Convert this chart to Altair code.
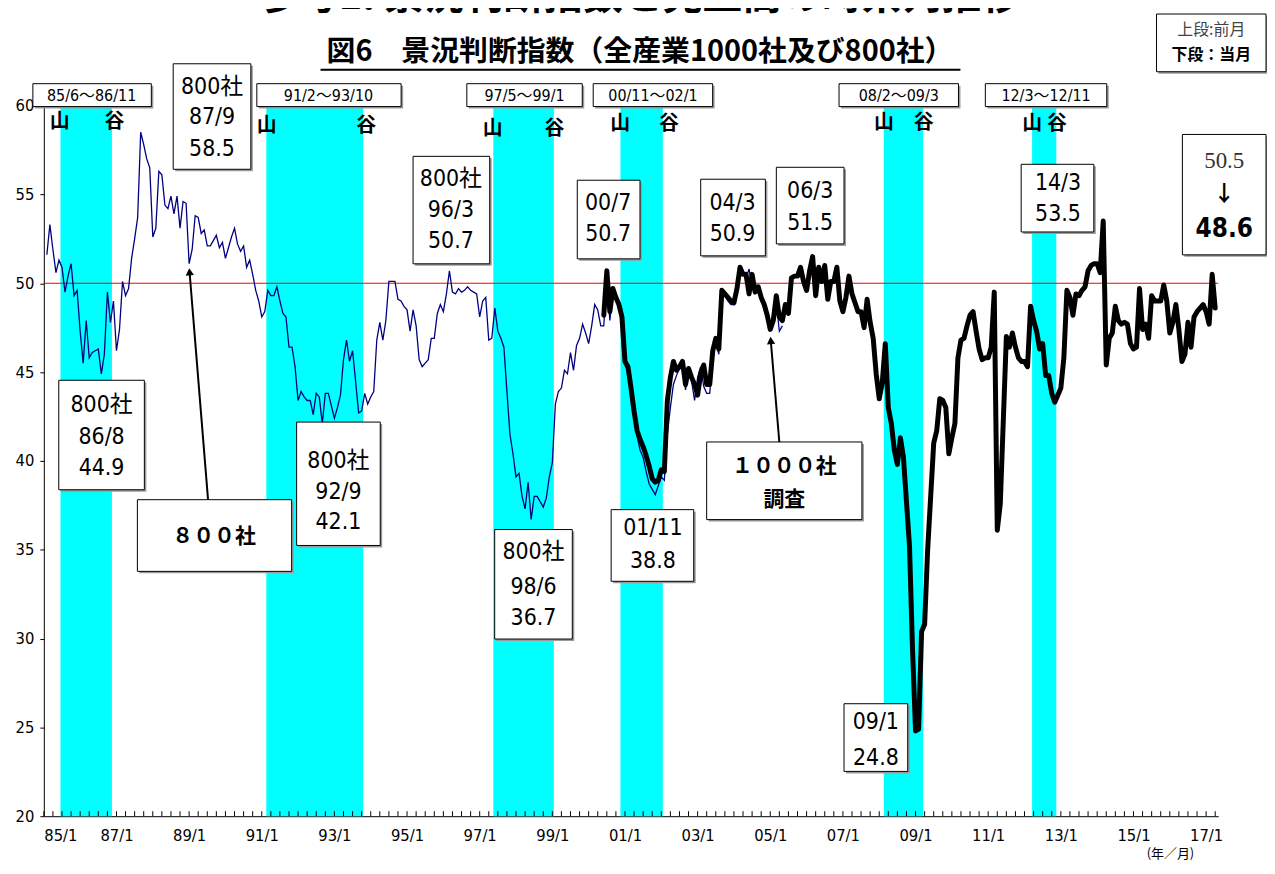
import json
import altair as alt
import pandas as pd

# ---------------- data ----------------
# month index: 0 = 1985/1
start_800 = 1
values_800 = [
    51.6, 53.3, 51.9, 50.6, 51.3, 50.9, 49.5, 50.4, 51.1, 49.3, 49.6,
    47.3, 45.5, 47.9, 45.8, 46.1, 46.2, 46.3, 44.9, 46.0, 49.5, 47.8, 49.0,
    46.2, 47.4, 50.1, 49.3, 49.7, 51.4, 52.5, 53.7, 58.5, 57.8, 57.0, 56.5,
    52.6, 53.1, 56.3, 56.1, 54.4, 54.2, 54.9, 53.9, 54.9, 53.1, 54.6, 54.5,
    51.1, 51.9, 53.8, 53.7, 52.8, 53.0, 52.1, 52.1, 52.4, 52.7, 52.0, 52.3,
    51.4, 52.0, 52.6, 53.1, 52.2, 51.8, 52.1, 50.9, 51.3, 50.5, 49.6, 49.0,
    48.1, 48.4, 49.6, 49.3, 49.3, 49.8, 49.0, 48.3, 48.1, 46.4, 46.4, 45.3,
    43.4, 43.9, 43.6, 43.4, 43.4, 42.6, 43.8, 43.6, 42.1, 43.8, 43.8, 43.1,
    42.4, 43.0, 43.7, 45.7, 46.8, 45.6, 46.2, 44.5, 42.7, 42.8, 43.8, 43.2,
    43.6, 43.9, 46.8, 47.8, 46.8, 47.9, 50.1, 50.1, 50.1, 49.1, 49.0, 48.7,
    48.5, 47.3, 48.5, 47.6, 45.7, 45.3, 45.5, 45.7, 46.9, 46.9, 48.3, 48.8,
    48.4, 49.4, 50.7, 49.5, 49.4, 49.7, 49.5, 49.6, 49.8, 49.6, 49.5, 49.4,
    48.1, 49.0, 49.2, 46.8, 46.9, 48.6, 47.3, 46.9, 46.4, 43.9, 41.5, 40.4,
    39.1, 39.3, 38.0, 37.3, 38.8, 36.7, 38.0, 38.0, 37.7, 37.4, 37.9, 39.1,
    39.9, 43.2, 43.9, 44.1, 45.1, 44.9, 46.1, 45.1, 46.5, 46.9, 47.7, 47.2,
    46.6, 47.6, 48.8, 48.5, 47.6, 47.6, 50.4, 47.9, 49.5, 49.2, 48.7, 48.0,
    45.4, 45.0, 43.8, 42.5, 41.4, 40.6, 40.2, 39.4, 38.7, 38.4, 38.1, 38.6,
    39.1, 38.9, 41.5, 43.0, 44.3, 44.8, 45.2, 45.5, 44.0, 45.0, 44.5, 43.4,
    44.7, 45.3, 44.2, 43.8, 43.8, 46.0, 46.8, 46.0, 49.4, 49.3, 49.0, 48.8,
    48.8, 49.6, 50.6, 50.5, 50.3, 50.8, 49.7, 49.9, 49.8, 49.0, 48.6, 48.0,
    47.6, 48.2, 48.9, 47.3, 47.6,
]

start_1000 = 185
values_1000 = [
    48.2, 50.7, 48.4, 49.7, 49.2, 48.8, 48.1,
    45.6, 45.3, 44.1, 42.8, 41.7, 41.2, 40.8, 40.3, 39.7, 39.0, 38.8, 38.9,
    39.5, 39.4, 43.4, 44.7, 45.6, 45.1, 45.3, 45.6, 44.3, 45.2, 44.7, 44.3,
    43.7, 44.9, 45.4, 44.3, 44.3, 46.2, 46.9, 46.3, 49.6, 49.4, 49.2, 49.0,
    48.9, 49.7, 50.9, 50.5, 50.5, 49.4, 50.5, 49.5, 49.8, 49.2, 48.8, 48.2,
    47.4, 47.9, 49.3, 48.1, 47.9, 48.8, 48.3, 50.3, 50.4, 50.4, 50.9, 50.1,
    49.6, 50.7, 51.5, 49.3, 50.9, 50.1, 51.0, 49.1, 50.1, 50.1, 50.9, 49.0,
    48.4, 49.2, 50.4, 49.4, 48.9, 48.4, 48.4, 47.5, 49.1, 47.8, 46.9, 44.9,
    43.5, 44.4, 46.6, 43.0, 42.1, 40.6, 39.8, 41.3, 40.2, None, 35.2, 29.4,
    24.8, 24.9, 30.4, 30.8, 35.0, None, 41.0, 41.7, 43.5, 43.4, 43.0, 40.4,
    41.3, 42.1, 45.8, 46.8, 46.9, 47.6, 48.2, 48.4, 47.3, 46.3, 45.7, 45.8,
    45.8, 46.4, 49.5, 36.1, 37.6, None, 47.0, 46.4, 47.2, 46.4, 45.8, 45.6,
    45.6, 45.3, 48.7, 47.9, 47.3, 46.3, 46.6, 44.8, 44.8, 43.8, 43.3, 43.7,
    44.1, 45.8, 49.6, 49.2, 48.2, 49.4, 49.3, 49.6, 49.8, 50.7, 51.0, 51.1,
    51.1, 50.6, 53.5, 45.4, 46.9, 47.2, 48.7, 47.9, 47.7, 47.8, 47.7, 46.6,
    46.3, 46.4, 49.7, 47.4, 47.7, 46.9, 49.3, 49.0, 49.0, 49.0, 49.9, 49.0,
    47.2, 47.8, 48.8, 47.4, 45.6, 46.0, 47.8, 46.4, 48.1, 48.4, 48.6, 48.8,
    48.4, 47.7, 50.5, 48.6,
]

band_starts = ["85/6", "91/2", "97/5", "00/11", "08/2", "12/3"]
band_ends = ["86/11", "93/10", "99/1", "02/1", "09/3", "12/11"]

tick_labels = ["85/1", "87/1", "89/1", "91/1", "93/1", "95/1", "97/1", "99/1",
               "01/1", "03/1", "05/1", "07/1", "09/1", "11/1", "13/1", "15/1", "17/1"]
y_ticks = [20, 25, 30, 35, 40, 45, 50, 55, 60]
ref_level = [50]

# ---------------- layout ----------------
W, H = 1180, 714
M_MAX = 388
NARROW = "Liberation Sans Narrow, DejaVu Sans Condensed, Liberation Sans, Noto Sans CJK JP, sans-serif"
CJK = "Noto Sans CJK JP, sans-serif"
SERIF = "Liberation Serif, DejaVu Serif, serif"


def mx(px):  # page pixel -> month index
    return (px - 44) * M_MAX / W


def vy(py):  # page pixel -> index value
    return 60 - (py - 104) * 40 / H


def midx(s):
    yy, mm = [int(t) for t in s.split("/")]
    year = 1900 + yy if yy >= 50 else 2000 + yy
    return (year - 1985) * 12 + (mm - 1)


xs = alt.Scale(domain=[0, M_MAX], nice=False, zero=False)
ys = alt.Scale(domain=[20, 60], nice=False, zero=False)
label_expr = json.dumps(tick_labels) + "[round(datum.value / 24)]"
XAX = alt.Axis(values=[24 * i for i in range(len(tick_labels))], labelExpr=label_expr,
               tickSize=0, labelPadding=11, grid=False, domainColor="black", domainWidth=1,
               labelColor="black", labelFont=NARROW, labelFontSize=16.5, title=None)
YAX = alt.Axis(values=y_ticks, tickSize=4, tickColor="black", labelPadding=6, grid=False,
               domainColor="black", domainWidth=1, labelColor="black", labelFont=NARROW,
               labelFontSize=16.5, title=None)


def X(field):
    return alt.X(field, scale=xs, axis=XAX, title=None)


def Y(field):
    return alt.Y(field, scale=ys, axis=YAX, title=None)


df800 = pd.DataFrame({"m": [start_800 + i for i in range(len(values_800))], "v": values_800})
df1000 = pd.DataFrame({"m": [start_1000 + i for i in range(len(values_1000))], "v": values_1000}).dropna()

bands = pd.DataFrame({
    "a": [midx(s) + 0.5 for s in band_starts],
    "b": [midx(e) + 0.5 for e in band_ends],
    "lo": [20] * len(band_starts), "hi": [60] * len(band_starts),
})

band_rects = alt.Chart(bands).mark_rect(color="#00FFFF").encode(
    x=X("a:Q"), x2="b:Q", y=Y("lo:Q"), y2="hi:Q")

ref_rule = alt.Chart(pd.DataFrame({"v": ref_level})).mark_rule(color="#FF0000", strokeWidth=1.2).encode(
    y=Y("v:Q"))

line800 = alt.Chart(df800).mark_line(color="#000080", strokeWidth=1.3).encode(
    x=X("m:Q"), y=Y("v:Q"), order="m:Q")

line1000 = alt.Chart(df1000).mark_line(color="black", strokeWidth=5, strokeJoin="round",
                                       strokeCap="round").encode(
    x=X("m:Q"), y=Y("v:Q"), order="m:Q")

xticks = alt.Chart(pd.DataFrame({"m": list(range(0, M_MAX, 3))})).mark_rule(color="black").encode(
    x=X("m:Q"), y=alt.value(H), y2=alt.value(H - 5))

# annotation boxes in page pixels
boxes_px = [
    (174, 62, 252, 168), (59, 380, 145, 490), (298, 422, 382, 546), (415, 155, 492, 263),
    (497, 530, 575, 640), (580, 179, 643, 258), (614, 510, 697, 582), (704, 178, 769, 255),
    (780, 166, 848, 243), (848, 705, 912, 773), (1026, 163, 1099, 231), (1188, 133, 1272, 254),
    (138, 500, 293, 572), (710, 442, 866, 520), (1162, 12, 1272, 70),
    (33, 82, 152, 105), (258, 82, 403, 105), (469, 82, 585, 105), (596, 82, 716, 105),
    (843, 82, 963, 105), (990, 82, 1112, 105),
]
boxes = pd.DataFrame({
    "x": [mx(b[0]) for b in boxes_px], "x2": [mx(b[2]) for b in boxes_px],
    "y": [vy(b[1]) for b in boxes_px], "y2": [vy(b[3]) for b in boxes_px],
})
shadows = pd.DataFrame({
    "x": [mx(b[0] + 2) for b in boxes_px], "x2": [mx(b[2] + 2) for b in boxes_px],
    "y": [vy(b[1] + 2) for b in boxes_px], "y2": [vy(b[3] + 2) for b in boxes_px],
})
shadow_layer = alt.Chart(shadows).mark_rect(fill="#9a9a9a").encode(
    x=X("x:Q"), x2="x2:Q", y=Y("y:Q"), y2="y2:Q")
box_layer = alt.Chart(boxes).mark_rect(fill="white", stroke="black", strokeWidth=1).encode(
    x=X("x:Q"), x2="x2:Q", y=Y("y:Q"), y2="y2:Q")


def text_layer(rows, **kw):
    df = pd.DataFrame({"x": [mx(r[0]) for r in rows], "y": [vy(r[1]) for r in rows],
                       "t": [r[2] for r in rows]})
    return alt.Chart(df).mark_text(**kw).encode(x=X("x:Q"), y=Y("y:Q"), text="t:N")


band_centers = [92, 330, 527, 656, 903, 1051]
band_text = text_layer([(c, 94, f"{s}～{e}") for c, s, e in zip(band_centers, band_starts, band_ends)],
                       font=NARROW, fontSize=16, color="black")

yama_tani = text_layer([
    (60, 121, "山"), (115, 121, "谷"), (268, 125, "山"), (368, 125, "谷"),
    (495, 128, "山"), (557, 128, "谷"), (623, 123, "山"), (672, 123, "谷"),
    (888, 122, "山"), (928, 122, "谷"), (1037, 123, "山"), (1062, 123, "谷"),
], font=CJK, fontSize=20, fontWeight="bold", color="black")

box_text = text_layer([
    (213, 85, "800社"), (213, 116, "87/9"), (213, 148, "58.5"),
    (102, 405, "800社"), (102, 437, "86/8"), (102, 468, "44.9"),
    (340, 461, "800社"), (340, 492, "92/9"), (340, 522, "42.1"),
    (453, 178, "800社"), (453, 209, "96/3"), (453, 240, "50.7"),
    (536, 553, "800社"), (536, 588, "98/6"), (536, 619, "36.7"),
    (611, 202, "00/7"), (611, 233, "50.7"),
    (656, 528, "01/11"), (656, 562, "38.8"),
    (736, 202, "04/3"), (736, 233, "50.9"),
    (814, 190, "06/3"), (814, 222, "51.5"),
    (880, 723, "09/1"), (880, 760, "24.8"),
    (1063, 182, "14/3"), (1063, 213, "53.5"),
], font=NARROW, fontSize=23, color="black")

bold_text = text_layer([
    (215, 538, "８００社"), (788, 467, "１０００社"), (788, 500, "調査"),
], font=CJK, fontSize=21, fontWeight="bold", color="black")

prev_text = text_layer([(1230, 160, "50.5")], font=SERIF, fontSize=23, color="#333333")
arrow_text = text_layer([(1230, 193, "↓")], font=CJK, fontSize=22, fontWeight="bold", color="black")
cur_text = text_layer([(1230, 228, "48.6")], font=NARROW, fontSize=26, fontWeight="bold", color="black")
leg1 = text_layer([(1217, 28, "上段:前月")], font=CJK, fontSize=16, color="#444444")
leg2 = text_layer([(1217, 53, "下段：当月")], font=CJK, fontSize=16, fontWeight="bold", color="black")
xunit = text_layer([(1176, 856, "(年／月)")], font=CJK, fontSize=13, color="black")
title = text_layer([(643, 15, "参考1. 景況判断指数と売上高の時系列推移")], font=CJK, fontSize=40,
                   fontWeight="bold", color="black", baseline="bottom")
subtitle = text_layer([(643, 50, "図6　景況判断指数（全産業1000社及び800社）")], font=CJK, fontSize=29,
                      fontWeight="bold", color="black")

underline = alt.Chart(pd.DataFrame({"x": [mx(322)], "x2": [mx(965)], "y": [vy(68)]})).mark_rule(
    color="black", strokeWidth=2).encode(x=X("x:Q"), x2="x2:Q", y=Y("y:Q"))

# arrows (tail -> tip, page pixels)
arrows_px = [((209, 500), (190.4, 271)), ((783, 442), (774.4, 340))]
arrows = pd.DataFrame({
    "x": [mx(a[0][0]) for a in arrows_px], "y": [vy(a[0][1]) for a in arrows_px],
    "x2": [mx(a[1][0]) for a in arrows_px], "y2": [vy(a[1][1]) for a in arrows_px],
})
arrow_lines = alt.Chart(arrows).mark_rule(color="black", strokeWidth=2).encode(
    x=X("x:Q"), x2="x2:Q", y=Y("y:Q"), y2="y2:Q")
arrow_heads = alt.Chart(arrows).mark_point(shape="triangle-up", filled=True, size=70, angle=355,
                                           color="black", opacity=1).encode(
    x=X("x2:Q"), y=Y("y2:Q"))

chart = alt.layer(
    band_rects, ref_rule, line800, line1000, xticks,
    shadow_layer, box_layer, band_text, yama_tani, box_text, bold_text,
    prev_text, arrow_text, cur_text, leg1, leg2, xunit, title, subtitle, underline,
    arrow_lines, arrow_heads,
).properties(
    width=W, height=H, autosize="none",
    padding={"left": 36, "top": 96, "right": 49, "bottom": 48},
    background="white",
).configure_view(stroke=None)

chart.save("out.html", embed_options={"renderer": "svg", "actions": False})
